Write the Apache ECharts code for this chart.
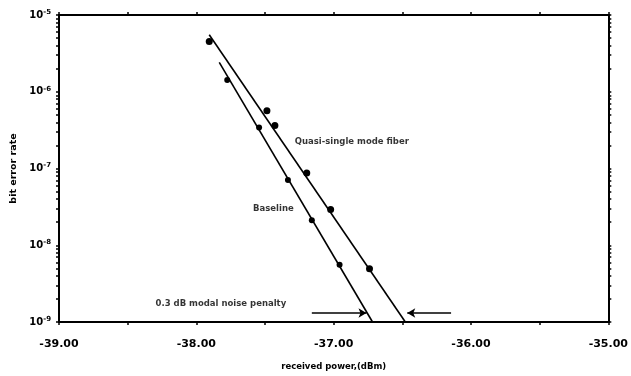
<!DOCTYPE html>
<html><head><meta charset="utf-8">
<script src="https://cdn.jsdelivr.net/npm/echarts@6/dist/echarts.min.js"></script>
<style>html,body{margin:0;padding:0;background:#fff;overflow:hidden}#c{width:631px;height:376px}</style>
</head><body><div id="c"></div>
<script>
// x ticks
const xMin = -39, xMax = -35;
const yMin = 1e-9, yMax = 1e-5;
const decadeExps = [-9, -8, -7, -6];
const decadeMults = [1, 2, 3, 4, 5, 6, 7, 8, 9];
// measured points
const quasiX = [-37.906, -37.486, -37.428, -37.196, -37.022, -36.739];
const quasiY = [4.5e-6, 5.65e-7, 3.63e-7, 8.75e-8, 2.92e-8, 4.95e-9];
const baseX = [-37.775, -37.543, -37.333, -37.159, -36.957];
const baseY = [1.42e-6, 3.42e-7, 7.1e-8, 2.11e-8, 5.57e-9];
// fitted lines
const quasiFitX = [-37.906, -36.478];
const quasiFitY = [5.53e-6, 1e-9];
const baseFitX = [-37.833, -36.717];
const baseFitY = [2.42e-6, 1e-9];
// arrows
const arrowLeftX = [-37.159, -36.761];
const arrowRightX = [-36.145, -36.464];
const arrowY = 1.31e-9;
// annotations
const annText = ['Quasi-single mode fiber', 'Baseline', '0.3 dB modal noise penalty'];
const annX = [-37.283, -37.587, -38.297];
const annY = [2.26e-7, 3.01e-8, 1.71e-9];

const zip = (a, b) => a.map((v, i) => [v, b[i]]);
const yTickVals = [];
decadeExps.forEach(e => decadeMults.forEach(m => yTickVals.push(m * Math.pow(10, e))));
yTickVals.push(yMax);

const FONT = 'DejaVu Sans';
const ink = '#000';

const chart = echarts.init(document.getElementById('c'), null, {renderer: 'canvas'});
const axisCommon = {
  axisLine: {show: true, lineStyle: {color: ink, width: 2}},
  splitLine: {show: false}
};
chart.setOption({
  animation: false,
  backgroundColor: '#fff',
  grid: {left: 59, right: 20, top: 15, bottom: 50, containLabel: false},
  xAxis: [
    Object.assign({
      type: 'value', min: xMin, max: xMax, interval: 0.5, position: 'bottom',
      name: 'received power,(dBm)', nameLocation: 'middle', nameGap: 40,
      nameTextStyle: {fontFamily: FONT, fontWeight: 'bold', fontSize: 8.5, color: ink},
      axisTick: {show: true, inside: false, length: 3, lineStyle: {color: ink, width: 1.5}},
      axisLabel: {
        margin: 17, fontFamily: FONT, fontWeight: 'bold', fontSize: 11, color: ink,
        formatter: v => (Math.abs(v - Math.round(v)) < 1e-6 ? v.toFixed(2) : '')
      }
    }, axisCommon),
    Object.assign({
      type: 'value', min: xMin, max: xMax, interval: 0.5, position: 'top',
      axisTick: {show: true, inside: false, length: 3, lineStyle: {color: ink, width: 1.5}},
      axisLabel: {show: false}
    }, axisCommon)
  ],
  yAxis: [
    Object.assign({
      type: 'log', logBase: 10, min: yMin, max: yMax, position: 'left',
      name: 'bit error rate', nameLocation: 'middle', nameGap: 40,
      nameTextStyle: {fontFamily: FONT, fontWeight: 'bold', fontSize: 9.5, color: ink},
      axisTick: {show: true, length: 3, customValues: yTickVals, lineStyle: {color: ink, width: 1.5}},
      axisLabel: {
        margin: 8, color: ink,
        formatter: v => '{b|10}{s|' + Math.round(Math.log10(v)) + '}',
        rich: {
          b: {fontFamily: FONT, fontWeight: 'bold', fontSize: 10, color: ink},
          s: {fontFamily: FONT, fontWeight: 'bold', fontSize: 7, color: ink, verticalAlign: 'top', padding: [0, 0, 6, 0]}
        }
      }
    }, axisCommon),
    Object.assign({
      type: 'log', logBase: 10, min: yMin, max: yMax, position: 'right',
      axisTick: {show: true, length: 3, customValues: yTickVals, lineStyle: {color: ink, width: 1.5}},
      axisLabel: {show: false}
    }, axisCommon)
  ],
  series: [
    {type: 'line', data: zip(quasiFitX, quasiFitY), symbol: 'none', lineStyle: {color: ink, width: 1.6}, z: 3},
    {type: 'line', data: zip(baseFitX, baseFitY), symbol: 'none', lineStyle: {color: ink, width: 1.6}, z: 3},
    {type: 'scatter', data: zip(quasiX, quasiY), symbol: 'circle', symbolSize: 7, itemStyle: {color: ink, opacity: 1}, z: 4},
    {type: 'scatter', data: zip(baseX, baseY), symbol: 'circle', symbolSize: 6, itemStyle: {color: ink, opacity: 1}, z: 4},
    {
      type: 'scatter', data: zip(annX, annY).map((p, i) => ({value: p, name: annText[i]})),
      symbolSize: 0, z: 5,
      label: {show: true, position: 'right', distance: 0, formatter: p => p.name,
        fontFamily: FONT, fontWeight: 'bold', fontSize: 8.5, color: ink}
    },
    {
      type: 'line', data: [], symbol: 'none',
      markLine: {
        silent: true, symbol: ['none', 'arrow'], symbolSize: [7, 8], label: {show: false},
        lineStyle: {color: ink, width: 1.5, type: 'solid'},
        data: [
          [{coord: [arrowLeftX[0], arrowY]}, {coord: [arrowLeftX[1], arrowY]}],
          [{coord: [arrowRightX[0], arrowY]}, {coord: [arrowRightX[1], arrowY]}]
        ]
      }
    }
  ]
});
</script></body></html>
